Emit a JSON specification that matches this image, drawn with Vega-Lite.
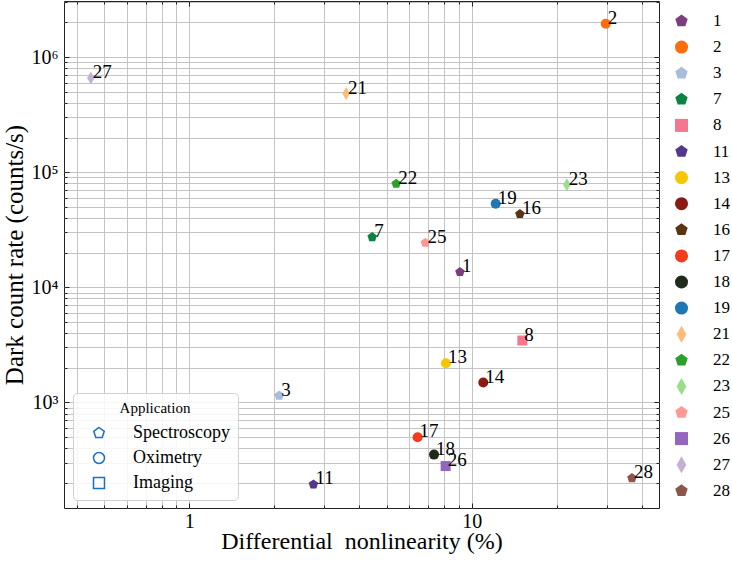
{
  "$schema": "https://vega.github.io/schema/vega-lite/v6.json",
  "width": 595,
  "height": 507,
  "autosize": "none",
  "padding": {"left": 64, "top": 1, "right": 73, "bottom": 54},
  "background": "white",
  "config": {
    "view": {"stroke": "#222222", "strokeWidth": 1},
    "font": "Liberation Serif"
  },
  "datasets": {
    "pts": [
      {"label": "1", "dnl": 9.08, "dcr": 13600, "application": "Spectroscopy"},
      {"label": "2", "dnl": 29.8, "dcr": 1950000, "application": "Oximetry"},
      {"label": "3", "dnl": 2.08, "dcr": 1146, "application": "Spectroscopy"},
      {"label": "7", "dnl": 4.44, "dcr": 27300, "application": "Spectroscopy"},
      {"label": "8", "dnl": 15.1, "dcr": 3450, "application": "Imaging"},
      {"label": "11", "dnl": 2.75, "dcr": 194, "application": "Spectroscopy"},
      {"label": "13", "dnl": 8.1, "dcr": 2190, "application": "Oximetry"},
      {"label": "14", "dnl": 10.98, "dcr": 1487, "application": "Oximetry"},
      {"label": "16", "dnl": 14.8, "dcr": 43300, "application": "Spectroscopy"},
      {"label": "17", "dnl": 6.43, "dcr": 498, "application": "Oximetry"},
      {"label": "18", "dnl": 7.35, "dcr": 352, "application": "Oximetry"},
      {"label": "19", "dnl": 12.15, "dcr": 53200, "application": "Oximetry"},
      {"label": "21", "dnl": 3.59, "dcr": 482000, "application": "Other"},
      {"label": "22", "dnl": 5.4, "dcr": 79400, "application": "Spectroscopy"},
      {"label": "23", "dnl": 21.7, "dcr": 77900, "application": "Other"},
      {"label": "25", "dnl": 6.85, "dcr": 24400, "application": "Spectroscopy"},
      {"label": "26", "dnl": 8.08, "dcr": 280, "application": "Imaging"},
      {"label": "27", "dnl": 0.448, "dcr": 659000, "application": "Other"},
      {"label": "28", "dnl": 36.9, "dcr": 220, "application": "Spectroscopy"}
    ],
    "apps": [
      {"application": "Spectroscopy"},
      {"application": "Oximetry"},
      {"application": "Imaging"}
    ]
  },
  "layer": [
    {
      "data": {"name": "pts"},
      "mark": {"type": "point", "filled": true, "size": 100, "opacity": 1, "strokeWidth": 0},
      "encoding": {
        "x": {
          "field": "dnl", "type": "quantitative",
          "scale": {"type": "log", "domain": [0.36, 46], "nice": false},
          "axis": {
            "orient": "bottom",
            "values": [0.4, 0.5, 0.6, 0.7, 0.8, 0.9, 1, 2, 3, 4, 5, 6, 7, 8, 9, 10, 20, 30, 40],
            "labelExpr": "datum.value == 1 ? '1' : (datum.value == 10 ? '10' : '')",
            "grid": true, "gridColor": "#c4c4c4", "gridWidth": 1,
            "domain": false,
            "ticks": true, "tickColor": "#222222", "tickWidth": 1,
            "tickSize": {"condition": {"test": "datum.value == 1 || datum.value == 10", "value": -5}, "value": -3},
            "labelFont": "Liberation Serif", "labelFontSize": 20, "labelColor": "black",
            "labelPadding": 8, "labelFlush": false, "labelOverlap": false,
            "title": "Differential\u00a0 nonlinearity (%)",
            "titleFont": "Liberation Serif", "titleFontSize": 24, "titleFontWeight": "normal", "titleColor": "black",
            "titlePadding": -4
          }
        },
        "y": {
          "field": "dcr", "type": "quantitative",
          "scale": {"type": "log", "domain": [121, 3070000], "nice": false},
          "axis": {
            "orient": "left",
            "values": [200, 300, 400, 500, 600, 700, 800, 900, 1000, 2000, 3000, 4000, 5000, 6000, 7000, 8000, 9000, 10000, 20000, 30000, 40000, 50000, 60000, 70000, 80000, 90000, 100000, 200000, 300000, 400000, 500000, 600000, 700000, 800000, 900000, 1000000, 2000000, 3000000],
            "labelExpr": "abs(log(datum.value)/LN10 - round(log(datum.value)/LN10)) < 0.0001 ? '10' + ['⁰','¹','²','³','⁴','⁵','⁶','⁷'][round(log(datum.value)/LN10)] : ''",
            "grid": true, "gridColor": "#c4c4c4", "gridWidth": 1,
            "domain": false,
            "ticks": true, "tickColor": "#222222", "tickWidth": 1,
            "tickSize": {"condition": {"test": "abs(log(datum.value)/LN10 - round(log(datum.value)/LN10)) < 0.0001", "value": -5}, "value": -3},
            "labelFont": "Liberation Serif", "labelFontSize": 20, "labelColor": "black",
            "labelPadding": 11, "labelFlush": false, "labelOverlap": false,
            "title": "Dark count rate (counts/s)",
            "titleFont": "Liberation Serif", "titleFontSize": 25, "titleFontWeight": "normal", "titleColor": "black",
            "titlePadding": 4
          }
        },
        "color": {
          "field": "label", "type": "nominal",
          "scale": {
            "domain": ["1", "2", "3", "7", "8", "11", "13", "14", "16", "17", "18", "19", "21", "22", "23", "25", "26", "27", "28"],
            "range": ["#7b3f7f", "#ff6d0a", "#a6bddb", "#0b8442", "#f4778f", "#55378b", "#f6c700", "#8a1a12", "#5c3412", "#f33d1a", "#1f2a18", "#1f77b4", "#ffbb78", "#2ca02c", "#98df8a", "#ff9896", "#9467bd", "#c5b0d5", "#8c564b"]
          },
          "legend": {
            "orient": "none", "legendX": 609, "legendY": 11.5,
            "title": null, "padding": 0,
            "labelFont": "Liberation Serif", "labelFontSize": 17, "labelColor": "black",
            "symbolSize": 170, "rowPadding": 8.1, "labelOffset": 23,
            "symbolStrokeWidth": 0, "symbolOpacity": 1
          }
        },
        "shape": {
          "field": "label", "type": "nominal",
          "scale": {
            "domain": ["1", "2", "3", "7", "8", "11", "13", "14", "16", "17", "18", "19", "21", "22", "23", "25", "26", "27", "28"],
            "range": [
              "M0,-1L0.951,-0.309L0.588,0.809L-0.588,0.809L-0.951,-0.309Z",
              "circle",
              "M0,-1L0.951,-0.309L0.588,0.809L-0.588,0.809L-0.951,-0.309Z",
              "M0,-1L0.951,-0.309L0.588,0.809L-0.588,0.809L-0.951,-0.309Z",
              "square",
              "M0,-1L0.951,-0.309L0.588,0.809L-0.588,0.809L-0.951,-0.309Z",
              "circle",
              "circle",
              "M0,-1L0.951,-0.309L0.588,0.809L-0.588,0.809L-0.951,-0.309Z",
              "circle",
              "circle",
              "circle",
              "M0,-1.3L0.75,0L0,1.3L-0.75,0Z",
              "M0,-1L0.951,-0.309L0.588,0.809L-0.588,0.809L-0.951,-0.309Z",
              "M0,-1.3L0.75,0L0,1.3L-0.75,0Z",
              "M0,-1L0.951,-0.309L0.588,0.809L-0.588,0.809L-0.951,-0.309Z",
              "square",
              "M0,-1.3L0.75,0L0,1.3L-0.75,0Z",
              "M0,-1L0.951,-0.309L0.588,0.809L-0.588,0.809L-0.951,-0.309Z"
            ]
          }
        }
      }
    },
    {
      "data": {"name": "pts"},
      "mark": {"type": "text", "align": "left", "baseline": "alphabetic", "dx": 2, "font": "Liberation Serif", "fontSize": 19, "color": "black"},
      "encoding": {
        "x": {
          "field": "dnl", "type": "quantitative",
          "scale": {"type": "log", "domain": [0.36, 46], "nice": false},
          "axis": {
            "orient": "top",
            "values": [0.4, 0.5, 0.6, 0.7, 0.8, 0.9, 1, 2, 3, 4, 5, 6, 7, 8, 9, 10, 20, 30, 40],
            "labels": false, "grid": false, "domain": false,
            "ticks": true, "tickColor": "#222222", "tickWidth": 1,
            "tickSize": {"condition": {"test": "datum.value == 1 || datum.value == 10", "value": -5}, "value": -3},
            "title": null
          }
        },
        "y": {
          "field": "dcr", "type": "quantitative",
          "scale": {"type": "log", "domain": [121, 3070000], "nice": false},
          "axis": {
            "orient": "right",
            "values": [200, 300, 400, 500, 600, 700, 800, 900, 1000, 2000, 3000, 4000, 5000, 6000, 7000, 8000, 9000, 10000, 20000, 30000, 40000, 50000, 60000, 70000, 80000, 90000, 100000, 200000, 300000, 400000, 500000, 600000, 700000, 800000, 900000, 1000000, 2000000, 3000000],
            "labels": false, "grid": false, "domain": false,
            "ticks": true, "tickColor": "#222222", "tickWidth": 1,
            "tickSize": {"condition": {"test": "abs(log(datum.value)/LN10 - round(log(datum.value)/LN10)) < 0.0001", "value": -5}, "value": -3},
            "title": null
          }
        },
        "text": {"field": "label", "type": "nominal"}
      }
    },
    {
      "data": {"name": "apps"},
      "transform": [{"filter": "false"}],
      "mark": {"type": "point", "filled": false, "strokeWidth": 1.5, "opacity": 1},
      "encoding": {
        "stroke": {
          "field": "application", "type": "nominal",
          "scale": {
            "domain": ["Spectroscopy", "Oximetry", "Imaging"],
            "range": ["#1f6fbf", "#1f6fbf", "#1f6fbf"]
          },
          "legend": {
            "orient": "none", "legendX": 9, "legendY": 392,
            "title": "Application",
            "titleFont": "Liberation Serif", "titleFontSize": 15, "titleFontWeight": "normal", "titleColor": "black",
            "titleAnchor": "middle", "titlePadding": 8,
            "labelFont": "Liberation Serif", "labelFontSize": 18, "labelColor": "black",
            "symbolSize": 121, "rowPadding": 7, "labelOffset": 25, "symbolOffset": 9,
            "symbolType": {"expr": "datum.value == 'Spectroscopy' ? 'M0,-1L0.951,-0.309L0.588,0.809L-0.588,0.809L-0.951,-0.309Z' : (datum.value == 'Oximetry' ? 'circle' : 'square')"},
            "symbolStrokeWidth": 1.5, "symbolFillColor": "transparent", "symbolOpacity": 1,
            "padding": 8,
            "strokeColor": "#d0d0d0", "fillColor": "rgba(255,255,255,0.85)", "cornerRadius": 4
          }
        }
      }
    }
  ],
  "resolve": {
    "axis": {"x": "independent", "y": "independent"}
  }
}
